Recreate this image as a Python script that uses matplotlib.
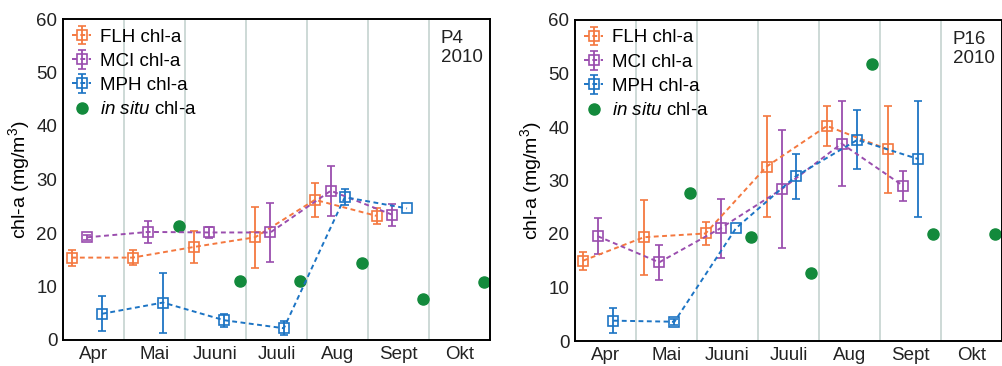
import numpy as np
import matplotlib
matplotlib.use('Agg')
import matplotlib.pyplot as plt

plt.rcParams['font.family'] = ['Liberation Sans', 'DejaVu Sans']
plt.rcParams['mathtext.fontset'] = 'custom'
plt.rcParams['mathtext.rm'] = 'Liberation Sans'
plt.rcParams['mathtext.it'] = 'Liberation Sans:italic'

# month index: 0 = start of April
months = ['Apr', 'Mai', 'Juuni', 'Juuli', 'Aug', 'Sept', 'Okt']

# ---- P4 2010 ----
p4_flh_x = [0.14, 1.14, 2.15, 3.15, 4.13, 5.14]
p4_flh_y = [15.4, 15.4, 17.4, 19.2, 26.2, 23.2]
p4_flh_e = [1.5, 1.4, 3.0, 5.7, 3.2, 1.5]
p4_mci_x = [0.40, 1.40, 2.40, 3.40, 4.39, 5.40]
p4_mci_y = [19.2, 20.2, 20.1, 20.1, 27.9, 23.4]
p4_mci_e = [0.5, 2.0, 1.0, 5.5, 4.7, 2.0]
p4_mph_x = [0.64, 1.64, 2.64, 3.62, 4.62, 5.64]
p4_mph_y = [4.9, 7.0, 3.7, 2.2, 26.7, 24.6]
p4_mph_e = [3.3, 5.6, 1.2, 1.3, 1.5, np.nan]
p4_insitu_x = [1.90, 2.90, 3.89, 4.90, 5.90, 6.90]
p4_insitu_y = [21.3, 11.0, 11.0, 14.3, 7.7, 10.8]

# ---- P16 2010 ----
p16_flh_x = [0.13, 1.13, 2.14, 3.14, 4.13, 5.13]
p16_flh_y = [15.0, 19.4, 20.1, 32.6, 40.2, 35.8]
p16_flh_e = [1.7, 7.0, 2.1, 9.5, 3.8, 8.2]
p16_mci_x = [0.37, 1.38, 2.39, 3.39, 4.37, 5.38]
p16_mci_y = [19.6, 14.7, 21.1, 28.4, 36.9, 29.0]
p16_mci_e = [3.3, 3.3, 5.5, 11.1, 8.0, 2.8]
p16_mph_x = [0.63, 1.63, 2.64, 3.62, 4.63, 5.63]
p16_mph_y = [3.8, 3.6, 21.1, 30.8, 37.6, 34.0]
p16_mph_e = [2.3, 0.6, np.nan, 4.2, 5.5, 10.8]
p16_insitu_x = [1.89, 2.89, 3.87, 4.87, 5.87, 6.89]
p16_insitu_y = [27.7, 19.4, 12.8, 51.7, 20.0, 20.0]

c_flh = '#F4783F'
c_mci = '#9A4DAE'
c_mph = '#1C74C4'
c_ins = '#138A3C'
c_grid = '#C5D3CF'


def plotpanel(ax, flh, mci, mph, insitu, station):
    for m in range(1, len(months)):
        ax.axvline(m, color=c_grid, lw=1.2, zorder=0)
    hh = []
    for (x, y, e), col, lab in [(flh, c_flh, 'FLH chl-a'),
                                (mci, c_mci, 'MCI chl-a'),
                                (mph, c_mph, 'MPH chl-a')]:
        h = ax.errorbar(x, y, yerr=e, fmt='s', ms=7, mfc='none', mec=col, mew=1.2,
                        color=col, ls=(0, (2.5, 1.8)), lw=1.4, elinewidth=1.3,
                        capsize=3, capthick=1.2, label=lab)
        hh.append(h)
    h, = ax.plot(insitu[0], insitu[1], 'o', ms=8, color=c_ins,
                 label=r'$\it{in\ situ}$ chl-a', ls='none')
    hh.append(h)
    ax.set_xlim(0, 7)
    ax.set_ylim(0, 60)
    ax.set_yticks(range(0, 61, 10))
    ax.set_xticks(np.arange(len(months)) + 0.5)
    ax.set_xticklabels(months)
    ax.tick_params(length=0, labelsize=13.5, colors='#222222', pad=4)
    for s in ax.spines.values():
        s.set_linewidth(1.4)
    ax.set_ylabel('chl-a (mg/m$^3$)', fontsize=14, labelpad=3)
    ax.text(0.885, 0.965, station + '\n2010', transform=ax.transAxes,
            fontsize=13.5, va='top', ha='left', color='#222222', linespacing=1.15)
    ax.legend(handles=hh, loc='upper left', frameon=False, fontsize=13.5,
              handlelength=1.0, handletextpad=0.5, borderaxespad=0.3,
              labelspacing=0.38, borderpad=0.2)


fig = plt.figure(figsize=(10.03, 3.66), dpi=100)
ax1 = fig.add_axes([63/1003, 26/366, 427/1003, 321/366])
ax2 = fig.add_axes([575/1003, 25/366, 427/1003, 321/366])

plotpanel(ax1, (p4_flh_x, p4_flh_y, p4_flh_e), (p4_mci_x, p4_mci_y, p4_mci_e),
          (p4_mph_x, p4_mph_y, p4_mph_e), (p4_insitu_x, p4_insitu_y), 'P4')
plotpanel(ax2, (p16_flh_x, p16_flh_y, p16_flh_e), (p16_mci_x, p16_mci_y, p16_mci_e),
          (p16_mph_x, p16_mph_y, p16_mph_e), (p16_insitu_x, p16_insitu_y), 'P16')

fig.savefig('out.png', dpi=100)
